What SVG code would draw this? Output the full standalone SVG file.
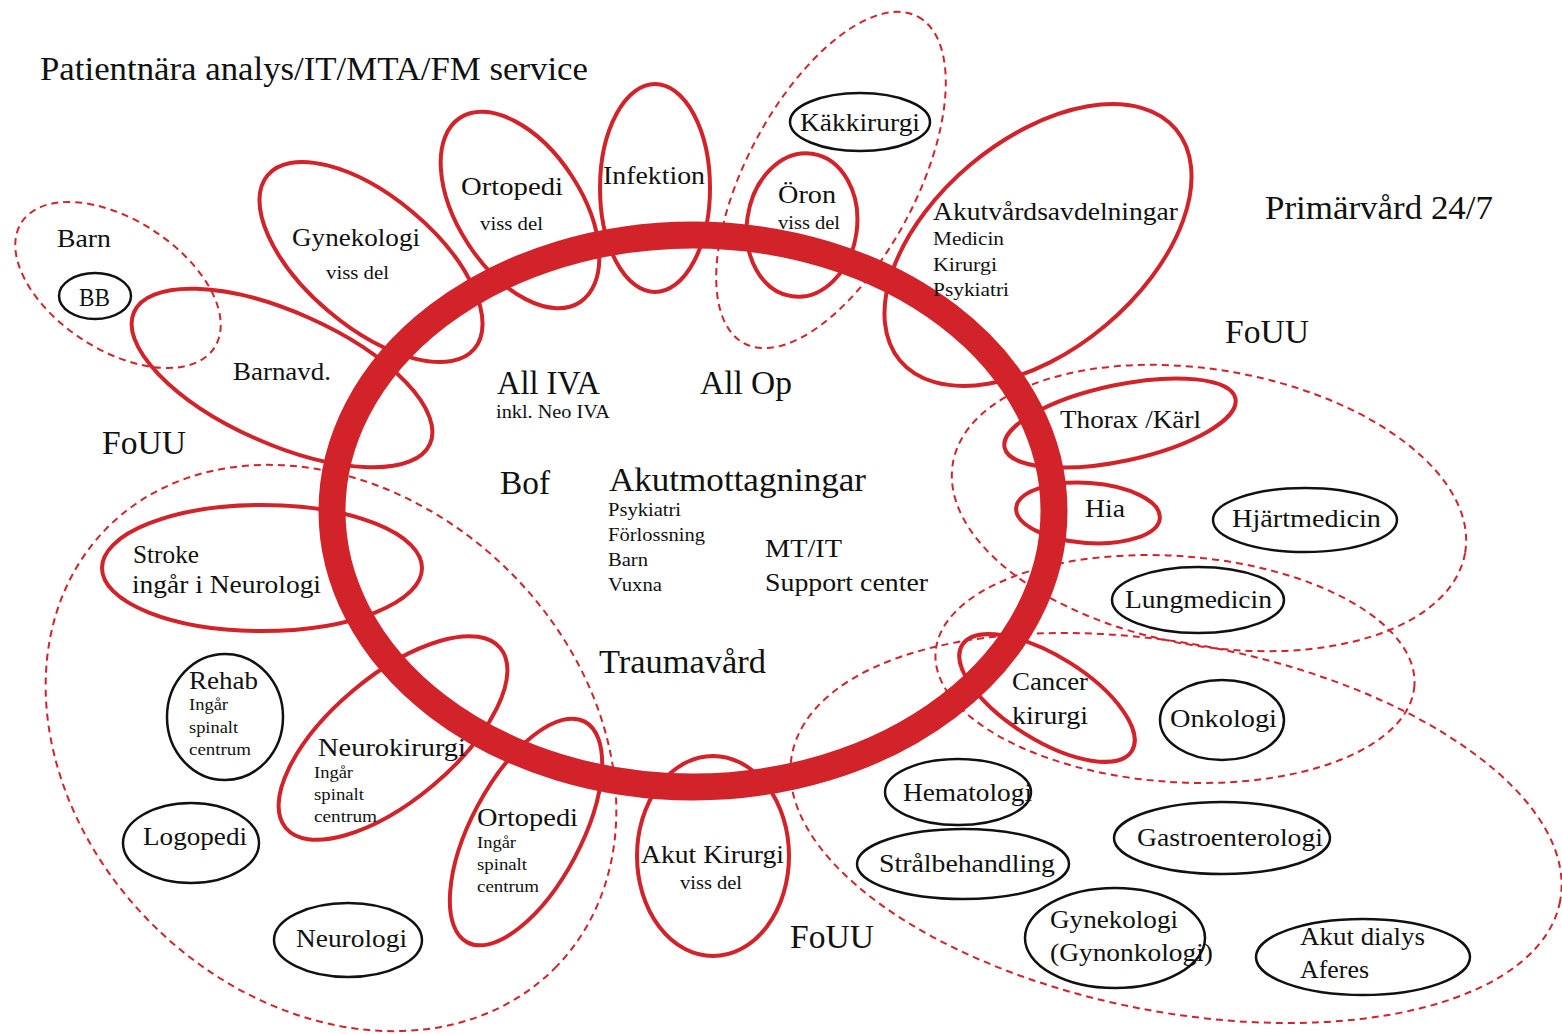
<svg xmlns="http://www.w3.org/2000/svg" width="1562" height="1034" viewBox="0 0 1562 1034">
<style>
text{font-family:"Liberation Serif","DejaVu Serif",serif;fill:#111}
.r{fill:none;stroke:#d2232a;stroke-width:4}
.k{fill:none;stroke:#111;stroke-width:2.5}
.d{fill:none;stroke:#d2232a;stroke-width:2;stroke-dasharray:7 5}
.xl{font-size:33px}
.l{font-size:25px}
.s{font-size:18px}
.xs{font-size:16px}
</style>
<rect width="1562" height="1034" fill="#fff"/>
<g id="ring"><ellipse cx="693" cy="511" rx="361" ry="276" fill="none" stroke="#d2232a" stroke-width="27"/></g>
<g id="connectors"></g>
<g id="groups">
<ellipse class="d" cx="118" cy="285" rx="115" ry="65" transform="rotate(33 118 285)"/>
<ellipse class="d" cx="831" cy="180" rx="185" ry="85" transform="rotate(-62 831 180)"/>
<ellipse class="d" cx="1209" cy="508" rx="260" ry="138" transform="rotate(10 1209 508)"/>
<ellipse class="d" cx="1175" cy="669" rx="240" ry="113" transform="rotate(4 1175 669)"/>
<ellipse class="d" cx="1176" cy="828" rx="391" ry="184" transform="rotate(10.8 1176 828)"/>
<ellipse class="d" cx="331" cy="748" rx="314" ry="251" transform="rotate(44 331 748)"/>
</g>
<g id="title"><text class="xl" x="40" y="80" textLength="548" lengthAdjust="spacingAndGlyphs">Patientnära analys/IT/MTA/FM service</text></g>
<g id="primarvard"><text class="xl" x="1265" y="219" textLength="228" lengthAdjust="spacingAndGlyphs">Primärvård 24/7</text></g>
<g id="fouu1"><text class="xl" x="1225" y="343" textLength="84" lengthAdjust="spacingAndGlyphs">FoUU</text></g>
<g id="fouu2"><text class="xl" x="102" y="454" textLength="84" lengthAdjust="spacingAndGlyphs">FoUU</text></g>
<g id="fouu3"><text class="xl" x="790" y="948" textLength="84" lengthAdjust="spacingAndGlyphs">FoUU</text></g>
<g id="barn"><text class="l" x="57" y="247" textLength="54" lengthAdjust="spacingAndGlyphs">Barn</text></g>
<g id="bb"><ellipse class="k" cx="95" cy="296" rx="36" ry="23"/><text class="l" x="79" y="306" textLength="31" lengthAdjust="spacingAndGlyphs">BB</text></g>
<g id="barnavd"><ellipse class="r" cx="282" cy="378" rx="162" ry="66" transform="rotate(24 282 378)"/><text class="l" x="233" y="380" textLength="98" lengthAdjust="spacingAndGlyphs">Barnavd.</text></g>
<g id="gynekologi1"><ellipse class="r" cx="371" cy="262" rx="135" ry="65" transform="rotate(40 371 262)"/><text class="l" x="292" y="246" textLength="128" lengthAdjust="spacingAndGlyphs">Gynekologi</text><text class="s" x="326" y="279" textLength="63" lengthAdjust="spacingAndGlyphs">viss del</text></g>
<g id="ortopedi1"><ellipse class="r" cx="520" cy="210" rx="110" ry="62" transform="rotate(57 520 210)"/><text class="l" x="461" y="195" textLength="102" lengthAdjust="spacingAndGlyphs">Ortopedi</text><text class="s" x="480" y="230" textLength="63" lengthAdjust="spacingAndGlyphs">viss del</text></g>
<g id="infektion"><ellipse class="r" cx="655" cy="188" rx="55" ry="104"/><text class="l" x="603" y="184" textLength="102" lengthAdjust="spacingAndGlyphs">Infektion</text></g>
<g id="kakkirurgi"><ellipse class="k" cx="860" cy="122" rx="70" ry="29"/><text class="l" x="800" y="131" textLength="120" lengthAdjust="spacingAndGlyphs">Käkkirurgi</text></g>
<g id="oron"><ellipse class="r" cx="802" cy="225" rx="55" ry="72" transform="rotate(8 802 225)"/><text class="l" x="778" y="203" textLength="58" lengthAdjust="spacingAndGlyphs">Öron</text><text class="s" x="778" y="229" textLength="62" lengthAdjust="spacingAndGlyphs">viss del</text></g>
<g id="akutvard"><ellipse class="r" cx="1038" cy="245" rx="180" ry="105" transform="rotate(-40 1038 245)"/><text class="l" x="933" y="220" textLength="245" lengthAdjust="spacingAndGlyphs">Akutvårdsavdelningar</text><text class="s" x="933" y="245" textLength="71" lengthAdjust="spacingAndGlyphs">Medicin</text><text class="s" x="933" y="271" textLength="64" lengthAdjust="spacingAndGlyphs">Kirurgi</text><text class="s" x="933" y="296" textLength="76" lengthAdjust="spacingAndGlyphs">Psykiatri</text></g>
<g id="thorax"><ellipse class="r" cx="1120" cy="423" rx="118" ry="38" transform="rotate(-12 1120 423)"/><text class="l" x="1060" y="428" textLength="141" lengthAdjust="spacingAndGlyphs">Thorax /Kärl</text></g>
<g id="hia"><ellipse class="r" cx="1088" cy="513" rx="72" ry="30" transform="rotate(4 1088 513)"/><text class="l" x="1085" y="517" textLength="40" lengthAdjust="spacingAndGlyphs">Hia</text></g>
<g id="hjartmedicin"><ellipse class="k" cx="1305" cy="520" rx="92" ry="32"/><text class="l" x="1232" y="527" textLength="149" lengthAdjust="spacingAndGlyphs">Hjärtmedicin</text></g>
<g id="lungmedicin"><ellipse class="k" cx="1198" cy="600" rx="86" ry="33"/><text class="l" x="1125" y="608" textLength="147" lengthAdjust="spacingAndGlyphs">Lungmedicin</text></g>
<g id="cancerkirurgi"><ellipse class="r" cx="1047" cy="698" rx="100" ry="42" transform="rotate(32 1047 698)"/><text class="l" x="1012" y="690" textLength="76" lengthAdjust="spacingAndGlyphs">Cancer</text><text class="l" x="1012" y="724" textLength="76" lengthAdjust="spacingAndGlyphs">kirurgi</text></g>
<g id="onkologi"><ellipse class="k" cx="1222" cy="720" rx="62" ry="40"/><text class="l" x="1170" y="727" textLength="107" lengthAdjust="spacingAndGlyphs">Onkologi</text></g>
<g id="hematologi"><ellipse class="k" cx="958" cy="792" rx="73" ry="33"/><text class="l" x="903" y="801" textLength="129" lengthAdjust="spacingAndGlyphs">Hematologi</text></g>
<g id="stralbehandling"><ellipse class="k" cx="963" cy="864" rx="106" ry="35"/><text class="l" x="879" y="872" textLength="176" lengthAdjust="spacingAndGlyphs">Strålbehandling</text></g>
<g id="gastro"><ellipse class="k" cx="1222" cy="838" rx="108" ry="36"/><text class="l" x="1137" y="846" textLength="186" lengthAdjust="spacingAndGlyphs">Gastroenterologi</text></g>
<g id="gynonkologi"><ellipse class="k" cx="1115" cy="938" rx="90" ry="50"/><text class="l" x="1050" y="928" textLength="128" lengthAdjust="spacingAndGlyphs">Gynekologi</text><text class="l" x="1050" y="961" textLength="163" lengthAdjust="spacingAndGlyphs">(Gynonkologi)</text></g>
<g id="akutdialys"><ellipse class="k" cx="1363" cy="957" rx="107" ry="38"/><text class="l" x="1300" y="945" textLength="125" lengthAdjust="spacingAndGlyphs">Akut dialys</text><text class="l" x="1300" y="978" textLength="69" lengthAdjust="spacingAndGlyphs">Aferes</text></g>
<g id="akutkirurgi"><ellipse class="r" cx="713" cy="856" rx="76" ry="100"/><text class="l" x="641" y="863" textLength="143" lengthAdjust="spacingAndGlyphs">Akut Kirurgi</text><text class="s" x="680" y="889" textLength="62" lengthAdjust="spacingAndGlyphs">viss del</text></g>
<g id="stroke"><ellipse class="r" cx="262" cy="568" rx="160" ry="63"/><text class="l" x="133" y="563" textLength="66" lengthAdjust="spacingAndGlyphs">Stroke</text><text class="l" x="132" y="593" textLength="189" lengthAdjust="spacingAndGlyphs">ingår i Neurologi</text></g>
<g id="rehab"><ellipse class="k" cx="225" cy="717" rx="58" ry="63"/><text class="l" x="189" y="689" textLength="69" lengthAdjust="spacingAndGlyphs">Rehab</text><text class="xs" x="189" y="710" textLength="39" lengthAdjust="spacingAndGlyphs">Ingår</text><text class="xs" x="189" y="733" textLength="49" lengthAdjust="spacingAndGlyphs">spinalt</text><text class="xs" x="189" y="755" textLength="62" lengthAdjust="spacingAndGlyphs">centrum</text></g>
<g id="logopedi"><ellipse class="k" cx="191" cy="843" rx="68" ry="40"/><text class="l" x="143" y="845" textLength="104" lengthAdjust="spacingAndGlyphs">Logopedi</text></g>
<g id="neurologi"><ellipse class="k" cx="348" cy="940" rx="74" ry="37"/><text class="l" x="296" y="947" textLength="111" lengthAdjust="spacingAndGlyphs">Neurologi</text></g>
<g id="neurokirurgi"><ellipse class="r" cx="393" cy="738" rx="140" ry="62" transform="rotate(-40 393 738)"/><text class="l" x="318" y="756" textLength="148" lengthAdjust="spacingAndGlyphs">Neurokirurgi</text><text class="xs" x="314" y="778" textLength="39" lengthAdjust="spacingAndGlyphs">Ingår</text><text class="xs" x="314" y="800" textLength="50" lengthAdjust="spacingAndGlyphs">spinalt</text><text class="xs" x="314" y="822" textLength="63" lengthAdjust="spacingAndGlyphs">centrum</text></g>
<g id="ortopedi2"><ellipse class="r" cx="526" cy="832" rx="125" ry="55" transform="rotate(-62 526 832)"/><text class="l" x="477" y="826" textLength="101" lengthAdjust="spacingAndGlyphs">Ortopedi</text><text class="xs" x="477" y="848" textLength="39" lengthAdjust="spacingAndGlyphs">Ingår</text><text class="xs" x="477" y="870" textLength="50" lengthAdjust="spacingAndGlyphs">spinalt</text><text class="xs" x="477" y="892" textLength="62" lengthAdjust="spacingAndGlyphs">centrum</text></g>
<g id="center">
<text class="xl" x="497" y="394" textLength="103" lengthAdjust="spacingAndGlyphs">All IVA</text>
<text class="s" x="496" y="418" textLength="114" lengthAdjust="spacingAndGlyphs">inkl. Neo IVA</text>
<text class="xl" x="700" y="394" textLength="92" lengthAdjust="spacingAndGlyphs">All Op</text>
<text class="xl" x="500" y="494" textLength="50" lengthAdjust="spacingAndGlyphs">Bof</text>
<text class="xl" x="609" y="491" textLength="257" lengthAdjust="spacingAndGlyphs">Akutmottagningar</text>
<text class="s" x="608" y="516" textLength="73" lengthAdjust="spacingAndGlyphs">Psykiatri</text>
<text class="s" x="608" y="541" textLength="97" lengthAdjust="spacingAndGlyphs">Förlossning</text>
<text class="s" x="608" y="566" textLength="40" lengthAdjust="spacingAndGlyphs">Barn</text>
<text class="s" x="608" y="591" textLength="54" lengthAdjust="spacingAndGlyphs">Vuxna</text>
<text class="l" x="765" y="557" textLength="77" lengthAdjust="spacingAndGlyphs">MT/IT</text>
<text class="l" x="765" y="591" textLength="163" lengthAdjust="spacingAndGlyphs">Support center</text>
<text class="xl" x="599" y="673" textLength="167" lengthAdjust="spacingAndGlyphs">Traumavård</text>
</g>
</svg>
